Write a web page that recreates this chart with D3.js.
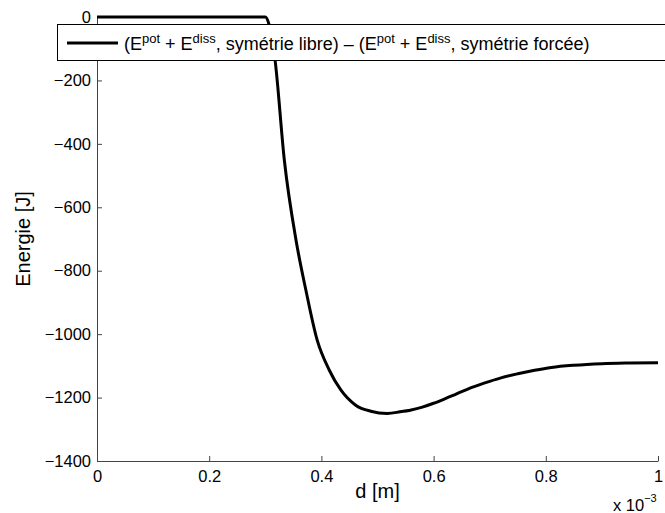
<!DOCTYPE html>
<html>
<head>
<meta charset="utf-8">
<script src="https://d3js.org/d3.v7.min.js"></script>
<style>
  body { margin: 0; background: #fff; }
  svg text { font-family: "Liberation Sans", Arial, sans-serif; }
</style>
</head>
<body>
<svg id="chart" width="665" height="513"></svg>
<script>
// d in units of 1e-3 m, energy in J
const dValues = [0, 0.10, 0.20, 0.300, 0.3064, 0.3174, 0.3339, 0.3547, 0.3723, 0.3925,
  0.4139, 0.4346, 0.4611, 0.488, 0.5174, 0.54, 0.56, 0.58, 0.60, 0.62, 0.64, 0.66, 0.68,
  0.70, 0.72, 0.75, 0.78, 0.81, 0.85, 0.90, 0.95, 1.0];
const energyValues = [0, 0, 0, 0, -22, -136, -451, -703, -861, -1019,
  -1113, -1176, -1224, -1243, -1250, -1245, -1239, -1230, -1218, -1204, -1189, -1174, -1161,
  -1149, -1138, -1125, -1114, -1105, -1098, -1093, -1091, -1090];
const xTicks = [0, 0.2, 0.4, 0.6, 0.8, 1];
const yTicks = [0, -200, -400, -600, -800, -1000, -1200, -1400];

const svg = d3.select("#chart");
const margin = { top: 17, right: 5, bottom: 52, left: 97 };
const width = 665, height = 513;

const x = d3.scaleLinear().domain([0, 1]).range([margin.left, width - margin.right - 2]);
const y = d3.scaleLinear().domain([-1400, 0]).range([height - margin.bottom, margin.top]);

const fmt = v => String(v).replace("-", "\u2212");

// axes (MATLAB style, ticks inside, box off)
const xAxis = svg.append("g")
  .attr("transform", `translate(0,${y(-1400)})`)
  .call(d3.axisBottom(x).tickValues(xTicks).tickSizeInner(-5).tickSizeOuter(0).tickPadding(9).tickFormat(fmt));
const yAxis = svg.append("g")
  .attr("transform", `translate(${x(0)},0)`)
  .call(d3.axisLeft(y).tickValues(yTicks).tickSizeInner(-5).tickSizeOuter(0).tickPadding(6).tickFormat(fmt));
[xAxis, yAxis].forEach(g => {
  g.selectAll("path, line").attr("stroke", "#444");
  g.selectAll("text").attr("fill", "#000").style("font-size", "16.5px");
});

// curve
const line = d3.line()
  .x((d, i) => x(dValues[i]))
  .y(d => y(d))
  .curve(d3.curveMonotoneX);
svg.append("path")
  .datum(energyValues)
  .attr("fill", "none")
  .attr("stroke", "#000")
  .attr("stroke-width", 3)
  .attr("stroke-linejoin", "round")
  .attr("d", line);

// axis labels
svg.append("text")
  .attr("x", (x(0) + x(1)) / 2)
  .attr("y", 498)
  .attr("text-anchor", "middle")
  .style("font-size", "20px")
  .text("d [m]");
svg.append("text")
  .attr("transform", `translate(30,${(y(0) + y(-1400)) / 2}) rotate(-90)`)
  .attr("text-anchor", "middle")
  .style("font-size", "20px")
  .text("Energie [J]");
const expo = svg.append("text")
  .attr("x", 613)
  .attr("y", 511)
  .style("font-size", "16.5px");
expo.append("tspan").text("x 10");
expo.append("tspan").attr("dy", -9).style("font-size", "11px").text("\u22123");

// legend
const legend = svg.append("g");
legend.append("rect")
  .attr("x", 57.5).attr("y", 24.5)
  .attr("width", 620).attr("height", 36)
  .attr("fill", "#fff").attr("stroke", "#000").attr("stroke-width", 1);
legend.append("line")
  .attr("x1", 67).attr("x2", 118).attr("y1", 43).attr("y2", 43)
  .attr("stroke", "#000").attr("stroke-width", 3);
const lt = legend.append("text").attr("x", 124).attr("y", 50).style("font-size", "18px");
const parts = [
  ["(E", 0], ["pot", 1], [" + E", 0], ["diss", 1], [", symétrie libre) \u2013 (E", 0],
  ["pot", 1], [" + E", 0], ["diss", 1], [", symétrie forcée)", 0]
];
let raised = false;
parts.forEach(([t, sup]) => {
  const ts = lt.append("tspan").text(t);
  if (sup) ts.style("font-size", "13px");
  if (sup && !raised) { ts.attr("dy", -7); raised = true; }
  else if (!sup && raised) { ts.attr("dy", 7); raised = false; }
});
</script>
</body>
</html>
